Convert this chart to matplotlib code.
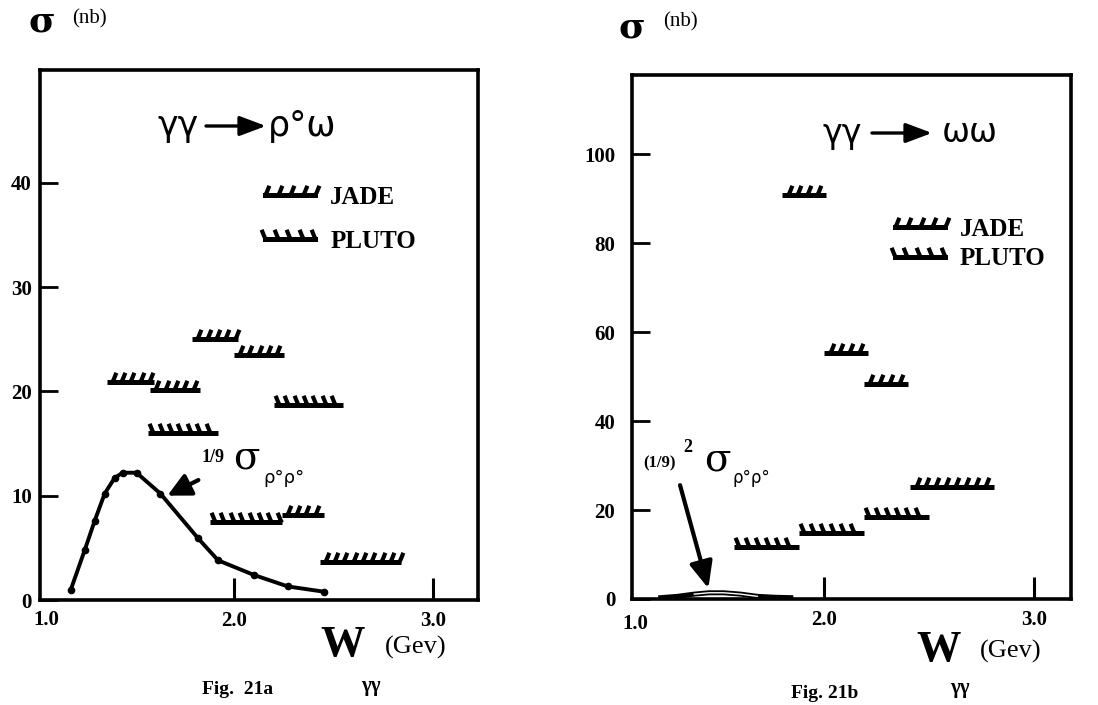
import numpy as np
import matplotlib.pyplot as plt
from matplotlib.path import Path
from matplotlib.lines import Line2D

plt.rcParams['font.family'] = ['DejaVu Sans']
SERIF = 'Liberation Serif'
FW, FH = 1098, 705

# Fig. 21a : gamma gamma -> rho0 omega, upper limits (nb)
a_jade_lo = [1.36, 1.58, 1.79, 2.00, 2.24, 2.43]
a_jade_hi = [1.60, 1.83, 2.02, 2.25, 2.45, 2.84]
a_jade_val = [20.9, 20.1, 25.0, 23.5, 8.1, 3.6]
a_pluto_lo = [1.57, 2.20, 1.88]
a_pluto_hi = [1.92, 2.55, 2.24]
a_pluto_val = [16.0, 18.7, 7.5]

# 1/9 sigma(rho0 rho0)
a_rr_w = [1.18, 1.25, 1.30, 1.35, 1.40, 1.44, 1.51, 1.63, 1.82, 1.92, 2.10, 2.27, 2.45]
a_rr_sig = [1.0, 4.8, 7.6, 10.2, 11.7, 12.2, 12.2, 10.2, 5.9, 3.8, 2.4, 1.3, 0.8]

# Fig. 21b : gamma gamma -> omega omega, upper limits (nb)
b_jade_lo = [1.80, 2.00, 2.19, 2.41]
b_jade_hi = [2.01, 2.21, 2.40, 2.81]
b_jade_val = [90.8, 55.4, 48.3, 25.2]
b_pluto_lo = [1.57, 1.88, 2.19]
b_pluto_hi = [1.88, 2.19, 2.50]
b_pluto_val = [11.6, 14.9, 18.4]

# (1/9)^2 sigma(rho0 rho0)
b_rr_w = [1.22, 1.30, 1.38, 1.45, 1.52, 1.60, 1.68, 1.76, 1.84]
b_rr_sig = [0.3, 0.6, 1.1, 1.4, 1.4, 1.1, 0.6, 0.4, 0.3]

# hatch strokes sitting on the limit line
jade_tick = Path([(-0.05, 0), (0.12, 0.3), (0.4, 1.0)])
pluto_tick = Path([(0.05, 0), (-0.12, 0.3), (-0.4, 1.0)])
TICK_MS, TICK_MEW, LIM_LW = 14, 3, 3.6


def upper_limits(ax, lo, hi, val, tick):
    for a, b, v in zip(lo, hi, val):
        ax.plot([a, b], [v, v], color='k', lw=LIM_LW, solid_capstyle='butt')
        xs = np.arange(a + 0.025, b - 0.005, 0.047)
        ax.plot(xs, [v] * len(xs), ls='none', marker=tick, ms=TICK_MS, mew=TICK_MEW, color='k')


def style(ax, xlim, ylim, yticks, ypad):
    ax.set_xlim(*xlim)
    ax.set_ylim(*ylim)
    for s in ax.spines.values():
        s.set_linewidth(2.6)
    ax.set_xticks([2.0, 3.0])
    ax.set_xticklabels(['2.0', '3.0'])
    ax.set_yticks(yticks)
    ax.tick_params(axis='x', direction='in', length=16, width=2.2, pad=8, labelsize=15)
    ax.tick_params(axis='y', direction='in', length=13, width=2, pad=ypad, labelsize=15)
    for lab in ax.get_xticklabels() + ax.get_yticklabels():
        lab.set_fontfamily(SERIF)
        lab.set_fontweight('bold')


def ftext(x, y, s, **kw):
    # place text by pixel position (origin top-left)
    fig.text(x / FW, 1 - y / FH, s, ha=kw.pop('ha', 'center'), va=kw.pop('va', 'center'), **kw)


def title_arrow(x0, x1, y):
    fig.add_artist(plt.Annotation('', xy=(x1 / FW, 1 - y / FH), xytext=(x0 / FW, 1 - y / FH),
                                  xycoords='figure fraction',
                                  arrowprops=dict(arrowstyle='-|>,head_length=0.8,head_width=0.3',
                                                  lw=2.4, color='k', mutation_scale=20,
                                                  shrinkA=0, shrinkB=0)))


def legend(ax, anchor, spacing):
    hj = Line2D([], [], color='k', lw=LIM_LW, marker=jade_tick, ms=TICK_MS, mew=TICK_MEW)
    hp = Line2D([], [], color='k', lw=LIM_LW, marker=pluto_tick, ms=TICK_MS, mew=TICK_MEW)
    ax.legend([hj, hp], ['JADE', 'PLUTO'], loc='upper left', bbox_to_anchor=anchor,
              numpoints=5, handlelength=2.6, handletextpad=0.3, labelspacing=spacing,
              borderpad=0, borderaxespad=0, frameon=False,
              prop={'family': SERIF, 'weight': 'bold', 'size': 18})


fig = plt.figure(figsize=(FW / 100, FH / 100), dpi=100)
ax1 = fig.add_axes([40 / FW, 105 / FH, 438 / FW, 530 / FH])
ax2 = fig.add_axes([632 / FW, 106 / FH, 439 / FW, 524 / FH])

# ---- left panel ----
style(ax1, (1.025, 3.226), (0, 50.8), [0, 10, 20, 30, 40], 6)
upper_limits(ax1, a_jade_lo, a_jade_hi, a_jade_val, jade_tick)
upper_limits(ax1, a_pluto_lo, a_pluto_hi, a_pluto_val, pluto_tick)
ax1.plot(a_rr_w, a_rr_sig, color='k', lw=2.8, marker='o', ms=4.5)
ax1.annotate('', xy=(1.665, 10.0), xytext=(1.821, 11.5),
             arrowprops=dict(arrowstyle='-|>,head_length=0.7,head_width=0.35',
                             lw=3, color='k', mutation_scale=20, shrinkA=0, shrinkB=0))
legend(ax1, (0.497, 0.782), 0.85)

ftext(178, 126, 'γγ', fontsize=25)
title_arrow(206, 266, 126)
ftext(268, 126, 'ρ°ω', fontsize=25, ha='left')
ftext(213, 458, '1/9', fontsize=13, family=SERIF, weight='bold')
ftext(246, 458, 'σ', fontsize=28, family='DejaVu Serif')
ftext(263, 478, 'ρ°ρ°', fontsize=13, ha='left')

ftext(42, 22, 'σ', fontsize=26, family='DejaVu Serif', weight='bold')
ftext(89, 19, '(nb)', fontsize=15, family=SERIF)
ftext(46, 620, '1.0', fontsize=15, family=SERIF, weight='bold')
ftext(343, 645, 'W', fontsize=32, family=SERIF, weight='bold')
ftext(416, 647, '(Gev)', fontsize=19, family=SERIF)
ftext(238, 690, 'Fig.  21a', fontsize=14, family=SERIF, weight='bold')
ftext(371, 686, 'γγ', fontsize=15, family=SERIF, weight='bold')

# ---- right panel ----
style(ax2, (1.083, 3.176), (0, 117.8), [0, 20, 40, 60, 80, 100], 12)
upper_limits(ax2, b_jade_lo, b_jade_hi, b_jade_val, jade_tick)
upper_limits(ax2, b_pluto_lo, b_pluto_hi, b_pluto_val, pluto_tick)
ax2.plot(b_rr_w, b_rr_sig, color='k', lw=3.6)
ax2.plot(b_rr_w[2:7], b_rr_sig[2:7], color='w', lw=1.0)
ax2.annotate('', xy=(1.447, 2.4), xytext=(1.312, 25.6),
             arrowprops=dict(arrowstyle='-|>,head_length=0.8,head_width=0.35',
                             lw=3, color='k', mutation_scale=20, shrinkA=0, shrinkB=0))
legend(ax2, (0.582, 0.727), 0.25)

ftext(842, 133, 'γγ', fontsize=24)
title_arrow(872, 932, 133)
ftext(942, 133, 'ωω', fontsize=24, ha='left')
ftext(660, 463, '(1/9)', fontsize=12, family=SERIF, weight='bold')
ftext(688, 447, '2', fontsize=13, family=SERIF, weight='bold')
ftext(717, 460, 'σ', fontsize=28, family='DejaVu Serif')
ftext(733, 478, 'ρ°ρ°', fontsize=12, ha='left')

ftext(632, 27, 'σ', fontsize=26, family='DejaVu Serif', weight='bold')
ftext(680, 22, '(nb)', fontsize=15, family=SERIF)
ftext(635, 624, '1.0', fontsize=15, family=SERIF, weight='bold')
ftext(939, 650, 'W', fontsize=32, family=SERIF, weight='bold')
ftext(1011, 651, '(Gev)', fontsize=19, family=SERIF)
ftext(825, 694, 'Fig. 21b', fontsize=14, family=SERIF, weight='bold')
ftext(960, 688, 'γγ', fontsize=15, family=SERIF, weight='bold')

fig.savefig('out.png', dpi=100)
